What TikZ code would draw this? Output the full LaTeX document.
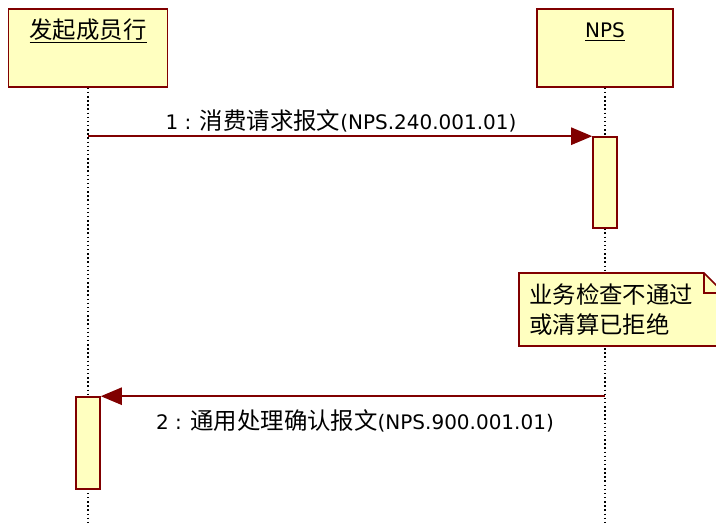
\documentclass[tikz,border=0pt]{standalone}
\usepackage{fontspec}
\setmainfont{DejaVu Sans}
\newfontfamily\cjk[Scale=1.17]{Noto Sans CJK SC}
\usetikzlibrary{arrows.meta,positioning}
\definecolor{umlfill}{RGB}{255,255,192}
\definecolor{umlline}{RGB}{128,0,0}

\begin{document}
\begin{tikzpicture}[x=0.75pt,y=-0.75pt,
    font=\fontsize{15pt}{22.5pt}\selectfont,
    objbox/.style={draw=umlline,fill=umlfill,line width=1.2pt,minimum height=58.5pt,inner sep=0pt},
    actbox/.style={draw=umlline,fill=umlfill,line width=1.2pt,minimum width=18pt,inner sep=0pt},
    life/.style={black,line width=1.1pt,dotted},
    msg/.style={umlline,line width=1.1pt,-{Triangle[length=15.75pt,width=13pt]}},
    msglabel/.style={inner sep=0pt}]
  \useasboundingbox (0,0) rectangle (716,524);
  % participants
  \node[objbox,minimum width=119.25pt] (sender) at (88,48) {};
  \node[objbox,minimum width=102pt] (nps) at (605,48) {};
  \node[msglabel] (sendername) at (88,31) {\underline{\cjk 发起成员行}};
  \node[msglabel] (npsname) at (605,32) {\underline{NPS}};
  \coordinate (senderend) at (88,524);
  \coordinate (npsend) at (605,524);
  \draw[life] (sender.south) -- (senderend);
  \draw[life] (nps.south) -- (npsend);
  % activations
  \node[actbox,minimum height=68.25pt] (npsact) at (605,182.5) {};
  \node[actbox,minimum height=69pt] (senderact) at (88,443) {};
  % messages
  \draw[msg] (sender.south |- npsact.north west) -- (npsact.north west);
  \node[msglabel] (m1label) at (341,121) {1 : {\cjk 消费请求报文}(NPS.240.001.01)};
  \draw[msg] (nps.south |- senderact.north east) -- (senderact.north east);
  \node[msglabel] (m2label) at (355,421) {2 : {\cjk 通用处理确认报文}(NPS.900.001.01)};
  % note
  \draw[umlline,fill=umlfill,line width=1.2pt] (519,273) -- (704,273) -- (724,293) -- (724,346) -- (519,346) -- cycle;
  \draw[umlline,line width=1.2pt] (704,273) -- (704,293) -- (724,293);
  \node[msglabel,anchor=west,align=left] (check) at (529,310) {\cjk 业务检查不通过\\\cjk 或清算已拒绝};
\end{tikzpicture}
\end{document}
